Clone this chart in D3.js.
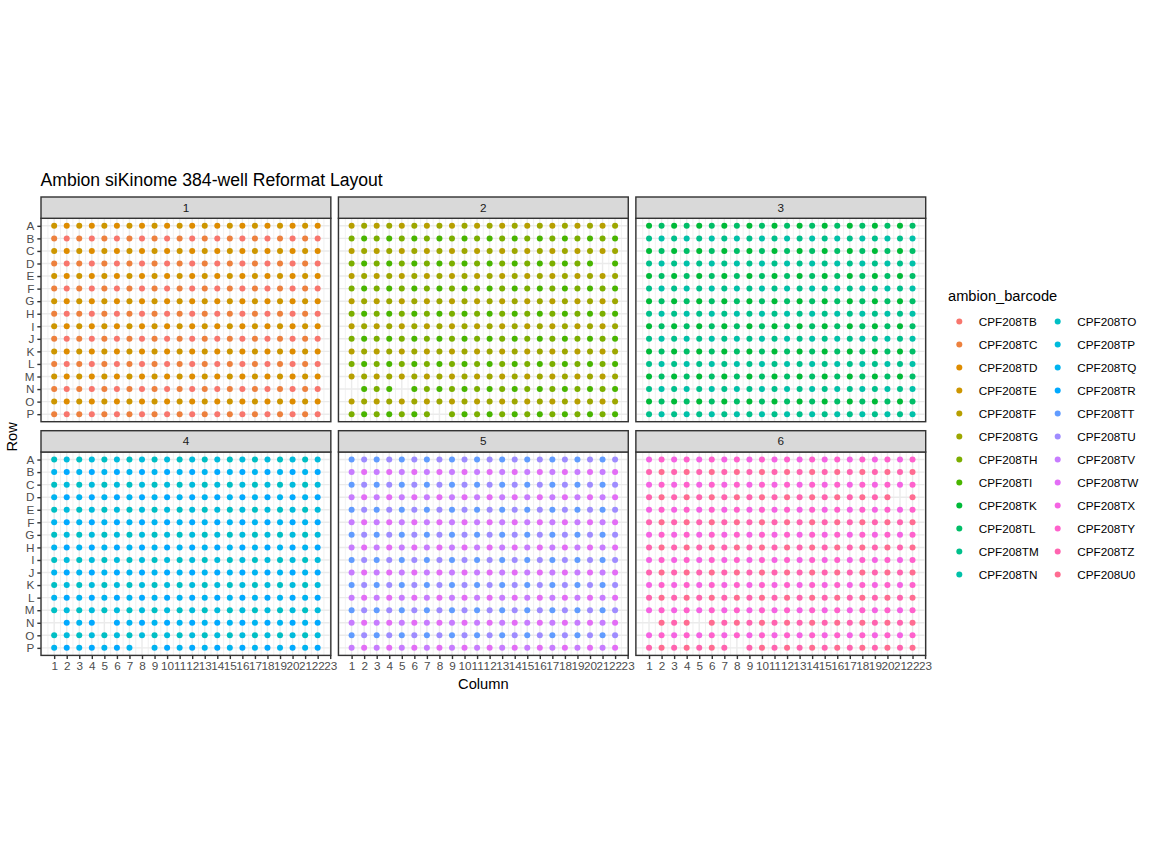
<!DOCTYPE html>
<html>
<head>
<meta charset="utf-8">
<script src="https://cdn.jsdelivr.net/npm/d3@7"></script>
<style>
  html, body { margin: 0; padding: 0; background: #ffffff; }
  svg { display: block; font-family: "Liberation Sans", Arial, Helvetica, sans-serif; }
</style>
</head>
<body>
<svg id="chart" width="1152" height="864"></svg>
<script>
// ---------------- data ----------------
const barcodes = ["CPF208TB","CPF208TC","CPF208TD","CPF208TE","CPF208TF","CPF208TG",
  "CPF208TH","CPF208TI","CPF208TK","CPF208TL","CPF208TM","CPF208TN",
  "CPF208TO","CPF208TP","CPF208TQ","CPF208TR","CPF208TT","CPF208TU",
  "CPF208TV","CPF208TW","CPF208TX","CPF208TY","CPF208TZ","CPF208U0"];
const plates = ["1","2","3","4","5","6"];
const rowLabels = ["A","B","C","D","E","F","G","H","I","J","K","L","M","N","O","P"];
const wellColumns = [1,2,3,4,5,6,7,8,9,10,11,12,13,14,15,16,17,18,19,20,21,22];
const xTickValues = [1,2,3,4,5,6,7,8,9,10,11,12,13,14,15,16,17,18,19,20,21,22,23];
// barcode per quadrant: [odd row/odd col, odd row/even col, even row/odd col, even row/even col]
const plateQuadrants = [
  ["CPF208TE","CPF208TD","CPF208TC","CPF208TB"],
  ["CPF208TF","CPF208TG","CPF208TH","CPF208TI"],
  ["CPF208TK","CPF208TL","CPF208TM","CPF208TN"],
  ["CPF208TO","CPF208TP","CPF208TQ","CPF208TR"],
  ["CPF208TT","CPF208TU","CPF208TV","CPF208TW"],
  ["CPF208TX","CPF208TY","CPF208TZ","CPF208U0"]
];
// wells without a sample
const emptyWells = [
  [],
  ["D21","N1","N5","P8"],
  [],
  ["N1","N5","P8"],
  [],
  ["D21","N1","N5","P8"]
];
const chartTitle = "Ambion siKinome 384-well Reformat Layout";
const xTitle = "Column";
const yTitle = "Row";
const legendTitle = "ambion_barcode";

// ---------------- colours (ggplot hue palette, polar LUV) ----------------
function hclLuv(h, c, l) {
  const hr = h * Math.PI / 180;
  const U = c * Math.cos(hr), V = c * Math.sin(hr);
  const Xn = 95.047, Yn = 100, Zn = 108.883;
  const den = Xn + 15 * Yn + 3 * Zn;
  const un = 4 * Xn / den, vn = 9 * Yn / den;
  const Y = Yn * (l > 8 ? Math.pow((l + 16) / 116, 3) : l / 903.3);
  const u = U / (13 * l) + un, v = V / (13 * l) + vn;
  const X = 9 * Y * u / (4 * v);
  const Z = Y * (12 - 3 * u - 20 * v) / (4 * v);
  const x = X / 100, y = Y / 100, z = Z / 100;
  const lin = [
    3.240479 * x - 1.537150 * y - 0.498535 * z,
    -0.969256 * x + 1.875992 * y + 0.041556 * z,
    0.055648 * x - 0.204043 * y + 1.057311 * z
  ];
  const g = lin.map(t => {
    const s = t <= 0.0031308 ? 12.92 * t : 1.055 * Math.pow(t, 1 / 2.4) - 0.055;
    return Math.round(Math.max(0, Math.min(1, s)) * 255);
  });
  return d3.rgb(g[0], g[1], g[2]).formatHex();
}
const nB = barcodes.length;
const palette = barcodes.map((b, i) => hclLuv(15 + i * 360 / nB, 100, 65));
const color = d3.scaleOrdinal().domain(barcodes).range(palette);

// ---------------- build well records ----------------
const wells = [];
plates.forEach((p, pi) => {
  rowLabels.forEach((r, ri) => {
    wellColumns.forEach(c => {
      const id = r + c;
      if (emptyWells[pi].includes(id)) return;
      const q = (ri % 2) * 2 + ((c - 1) % 2);
      wells.push({ plate: p, row: r, col: c, barcode: plateQuadrants[pi][q] });
    });
  });
});

// ---------------- layout ----------------
const svg = d3.select("#chart");
const px = 96 / 72;
const fs = { title: 13.2 * px, axisTitle: 11 * px, tick: 8.8 * px, strip: 8.8 * px, legend: 8.8 * px };
const panelsLeft = 41, panelsRight = 925.7, colGap = 7.6;
const pw = (panelsRight - panelsLeft - 2 * colGap) / 3;
const stripTops = [197, 430.7];
const stripH = 21.3;
const ph = 203.4;
const lineW = 1.42;

const x = d3.scaleLinear().domain([-0.05, 23.05]).range([0, pw]);
const y = d3.scalePoint().domain(rowLabels).range([0, ph]).padding(0.6);
const minorX = [0].concat(xTickValues.slice(0, -1).map(v => v - 0.5)).concat([22.5]);

// title
svg.append("text").attr("x", panelsLeft - 0.5).attr("y", 186)
  .attr("font-size", fs.title).attr("fill", "#000").text(chartTitle);

plates.forEach((p, pi) => {
  const col = pi % 3, row = Math.floor(pi / 3);
  const left = panelsLeft + col * (pw + colGap);
  const sTop = stripTops[row];
  const pTop = sTop + stripH;
  const g = svg.append("g").attr("transform", `translate(${left},${pTop})`);

  // panel background
  g.append("rect").attr("width", pw).attr("height", ph).attr("fill", "#fff");
  // minor vertical grid
  g.selectAll(".minor").data(minorX).join("line")
    .attr("x1", d => x(d)).attr("x2", d => x(d)).attr("y1", 0).attr("y2", ph)
    .attr("stroke", "#EBEBEB").attr("stroke-width", lineW / 2);
  // major vertical grid
  g.selectAll(".majx").data(xTickValues).join("line")
    .attr("x1", d => x(d)).attr("x2", d => x(d)).attr("y1", 0).attr("y2", ph)
    .attr("stroke", "#EBEBEB").attr("stroke-width", lineW);
  // major horizontal grid
  g.selectAll(".majy").data(rowLabels).join("line")
    .attr("x1", 0).attr("x2", pw).attr("y1", d => y(d)).attr("y2", d => y(d))
    .attr("stroke", "#EBEBEB").attr("stroke-width", lineW);

  // points
  g.selectAll("circle").data(wells.filter(w => w.plate === p)).join("circle")
    .attr("cx", d => x(d.col)).attr("cy", d => y(d.row)).attr("r", 3)
    .attr("fill", d => color(d.barcode));

  // border
  g.append("rect").attr("width", pw).attr("height", ph)
    .attr("fill", "none").attr("stroke", "#333333").attr("stroke-width", lineW);

  // strip
  const s = svg.append("g").attr("transform", `translate(${left},${sTop})`);
  s.append("rect").attr("width", pw).attr("height", stripH)
    .attr("fill", "#D9D9D9").attr("stroke", "#333333").attr("stroke-width", lineW);
  s.append("text").attr("x", pw / 2).attr("y", stripH / 2).attr("dy", "0.35em")
    .attr("text-anchor", "middle").attr("font-size", fs.strip).attr("fill", "#1A1A1A").text(p);

  // y axis on left column
  if (col === 0) {
    const ay = g.append("g").call(d3.axisLeft(y).tickSize(3.67).tickPadding(2.93));
    ay.select(".domain").remove();
    ay.selectAll(".tick line").attr("stroke", "#333333").attr("stroke-width", lineW);
    ay.selectAll(".tick text").attr("fill", "#4D4D4D").attr("font-size", fs.tick)
      .attr("font-family", "Liberation Sans, Arial, Helvetica, sans-serif");
  }
  // x axis on bottom row
  if (row === 1) {
    const ax = g.append("g").attr("transform", `translate(0,${ph})`)
      .call(d3.axisBottom(x).tickValues(xTickValues).tickFormat(d3.format("d")).tickSize(3.67).tickPadding(2.93));
    ax.select(".domain").remove();
    ax.selectAll(".tick line").attr("stroke", "#333333").attr("stroke-width", lineW);
    ax.selectAll(".tick text").attr("fill", "#4D4D4D").attr("font-size", fs.tick)
      .attr("font-family", "Liberation Sans, Arial, Helvetica, sans-serif");
  }
});

// axis titles
svg.append("text").attr("x", (panelsLeft + panelsRight) / 2).attr("y", 689)
  .attr("text-anchor", "middle").attr("font-size", fs.axisTitle).attr("fill", "#000").text(xTitle);
svg.append("text").attr("transform", `translate(17,${(stripTops[0] + stripH + stripTops[1] + stripH + ph) / 2}) rotate(-90)`)
  .attr("text-anchor", "middle").attr("font-size", fs.axisTitle).attr("fill", "#000").text(yTitle);

// legend
const leg = svg.append("g");
leg.append("text").attr("x", 948).attr("y", 301).attr("font-size", fs.axisTitle)
  .attr("fill", "#000").text(legendTitle);
const perCol = Math.ceil(barcodes.length / 2);
const legItems = leg.selectAll(".item").data(barcodes).join("g")
  .attr("transform", (d, i) => `translate(${i < perCol ? 959.3 : 1057.7},${321.5 + (i % perCol) * 23.0})`);
legItems.append("circle").attr("r", 3).attr("fill", d => color(d));
legItems.append("text").attr("x", 19.5).attr("dy", "0.35em").attr("font-size", fs.legend)
  .attr("fill", "#000").text(d => d);
</script>
</body>
</html>
